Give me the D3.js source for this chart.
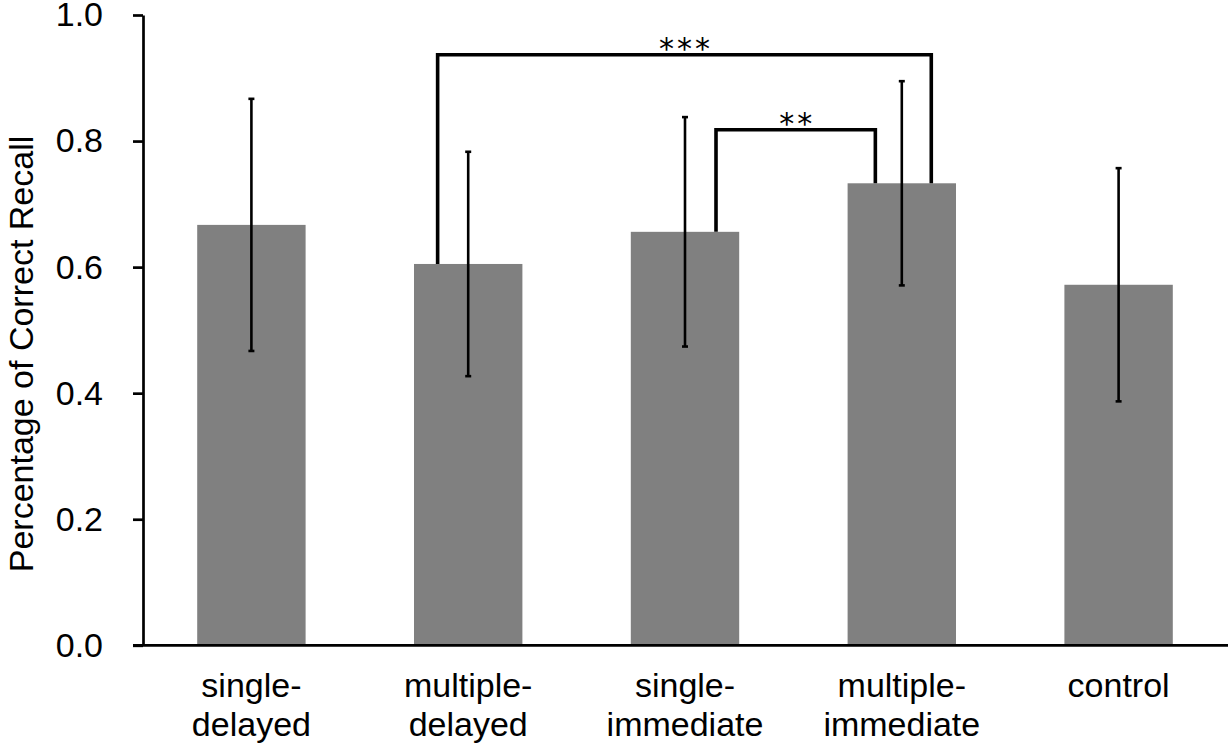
<!DOCTYPE html>
<html>
<head>
<meta charset="utf-8">
<script src="https://cdn.jsdelivr.net/npm/d3@7"></script>
<style>
  html, body { margin: 0; padding: 0; background: #fff; }
  svg { display: block; }
  text { font-family: "Liberation Sans", Arial, sans-serif; fill: #000; }
</style>
</head>
<body>
<svg id="chart" width="1228" height="748" viewBox="0 0 1228 748"></svg>
<script>
// ---------- DATA ----------
const categories = ["single-delayed", "multiple-delayed", "single-immediate", "multiple-immediate", "control"];
const means      = [0.667, 0.605, 0.656, 0.733, 0.572];
const errors     = [0.200, 0.178, 0.182, 0.162, 0.185];   // +/- half-length of error bar
const yTicks     = [0.0, 0.2, 0.4, 0.6, 0.8, 1.0];
const yTitle     = "Percentage of Correct Recall";

// significance brackets: between two categories, height in data units
const sigFrom   = [1, 2];
const sigTo     = [3, 3];
const sigLevel  = [0.937, 0.818];
const sigLabel  = ["***", "**"];

// ---------- LAYOUT ----------
const W = 1228, H = 748;
const mLeft = 143, mRight = 1227, mTop = 15, mBottom = 645.3;
const FS = 34;

const svg = d3.select("#chart");

const x = d3.scaleBand()
  .domain(categories)
  .range([mLeft, mRight])
  .paddingInner(0.5)
  .paddingOuter(0.25);

const y = d3.scaleLinear().domain([0, 1]).range([mBottom, mTop]);

// bars
svg.append("g")
  .selectAll("rect")
  .data(categories)
  .join("rect")
  .attr("x", d => x(d))
  .attr("width", x.bandwidth())
  .attr("y", (d, i) => y(means[i]))
  .attr("height", (d, i) => y(0) - y(means[i]))
  .attr("fill", "#808080");

// error bars
const eg = svg.append("g").attr("stroke", "#000").attr("fill", "none");
categories.forEach((c, i) => {
  const cx = x(c) + x.bandwidth() / 2;
  const y1 = y(means[i] + errors[i]), y2 = y(means[i] - errors[i]);
  eg.append("line").attr("x1", cx).attr("x2", cx).attr("y1", y1).attr("y2", y2).attr("stroke-width", 2.6);
  [y1, y2].forEach(yy => {
    eg.append("line").attr("x1", cx - 3).attr("x2", cx + 3).attr("y1", yy).attr("y2", yy).attr("stroke-width", 2.6);
  });
});

// significance brackets
const offL = [-0.141, 0.143], offR = [0.136, -0.122]; // offsets as fraction of band step
const step = x.step();
sigFrom.forEach((f, k) => {
  const t = sigTo[k];
  const xa = x(categories[f]) + x.bandwidth() / 2 + offL[k] * step;
  const xb = x(categories[t]) + x.bandwidth() / 2 + offR[k] * step;
  const yl = y(sigLevel[k]);
  svg.append("path")
    .attr("d", `M${xa},${y(means[f])}V${yl}H${xb}V${y(means[t])}`)
    .attr("fill", "none")
    .attr("stroke", "#000")
    .attr("stroke-width", 3.6)
    .attr("stroke-linejoin", "miter");
  svg.append("text")
    .attr("x", (xa + xb) / 2 + 1.5)
    .attr("y", yl + 4)
    .attr("text-anchor", "middle")
    .style("font-family", "'DejaVu Sans', sans-serif")
    .style("font-size", "30px")
    .style("letter-spacing", "3px")
    .text(sigLabel[k]);
});

// y axis
const yAxis = svg.append("g")
  .attr("transform", `translate(${mLeft},0)`)
  .call(d3.axisLeft(y)
    .tickValues(yTicks)
    .tickFormat(d3.format(".1f"))
    .tickSizeInner(10)
    .tickSizeOuter(0)
    .tickPadding(30));
yAxis.select(".domain").attr("stroke-width", 2.7);
yAxis.selectAll(".tick line").attr("stroke-width", 2.7);
yAxis.selectAll(".tick text").style("font-size", FS + "px").style("font-family", "'Liberation Sans', Arial, sans-serif");

// x axis
const xAxis = svg.append("g")
  .attr("transform", `translate(0,${mBottom})`)
  .call(d3.axisBottom(x).tickSize(0).tickSizeOuter(0).tickFormat(""));
xAxis.select(".domain").attr("stroke-width", 2.7).attr("d", `M${mLeft - 10},0H${W}`);
xAxis.selectAll(".tick text").remove();
xAxis.selectAll(".tick").each(function(d) {
  const parts = d.includes("-") ? [d.slice(0, d.indexOf("-") + 1), d.slice(d.indexOf("-") + 1)] : [d];
  const t = d3.select(this).append("text")
    .attr("text-anchor", "middle")
    .style("font-size", FS + "px")
    .style("font-family", "'Liberation Sans', Arial, sans-serif")
    .attr("fill", "#000");
  parts.forEach((p, j) => {
    t.append("tspan").attr("x", 0).attr("y", 51.4 + j * 39).text(p);
  });
});

// y title
svg.append("text")
  .attr("transform", `translate(33,354) rotate(-90)`)
  .attr("text-anchor", "middle")
  .style("font-size", FS + "px")
  .text(yTitle);
</script>
</body>
</html>
